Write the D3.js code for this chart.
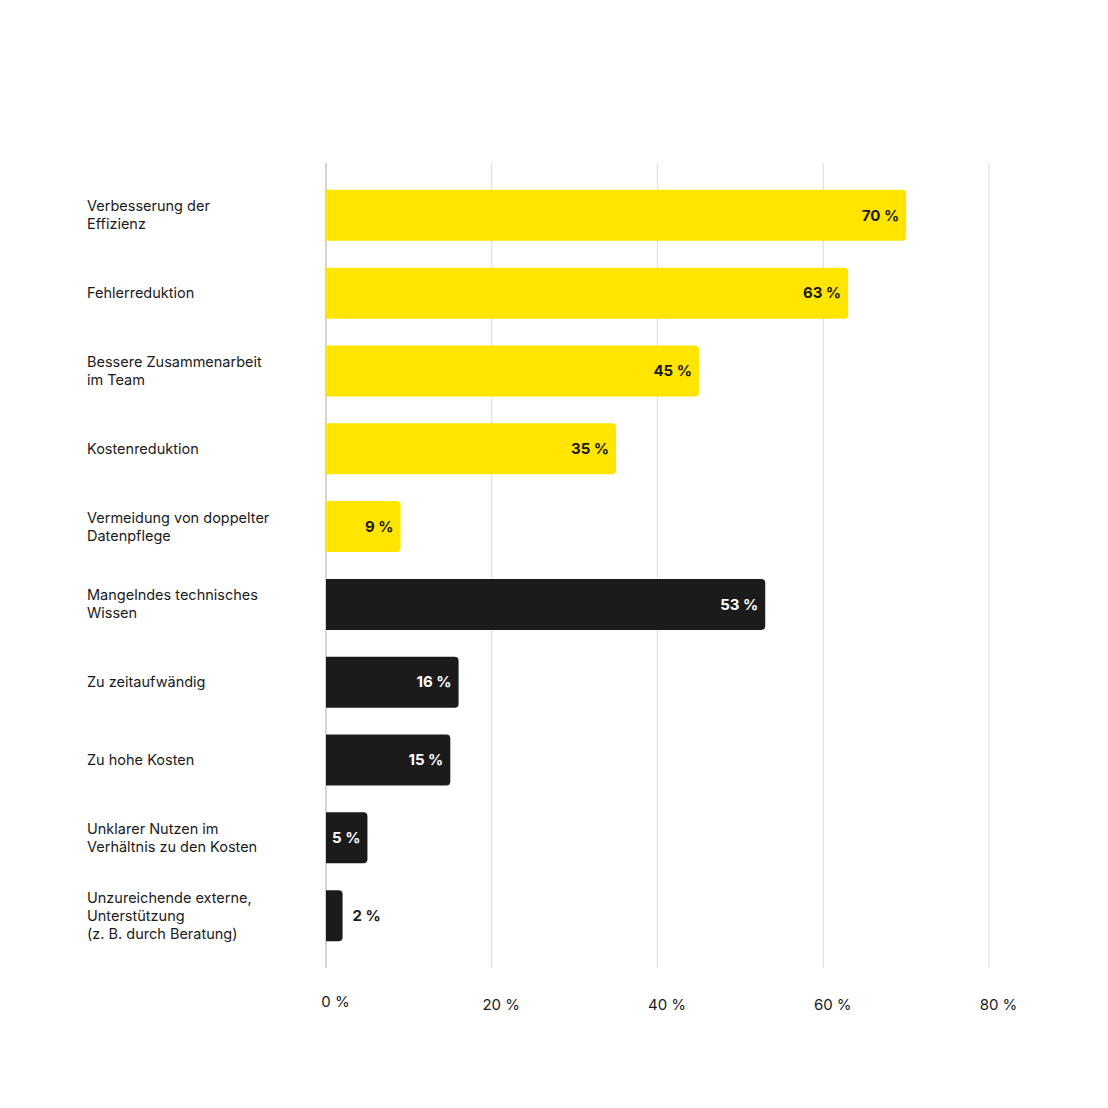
<!DOCTYPE html>
<html>
<head>
<meta charset="utf-8">
<script src="https://cdn.jsdelivr.net/npm/d3@7"></script>
<style>
  body { margin: 0; background: #fff; }
  svg text { font-family: Inter, "Noto Sans", sans-serif; }
</style>
</head>
<body>
<svg width="1108" height="1108"></svg>
<script>
let categories = [
  ["Verbesserung der", "Effizienz"],
  ["Fehlerreduktion"],
  ["Bessere Zusammenarbeit", "im Team"],
  ["Kostenreduktion"],
  ["Vermeidung von doppelter", "Datenpflege"],
  ["Mangelndes technisches", "Wissen"],
  ["Zu zeitaufwändig"],
  ["Zu hohe Kosten"],
  ["Unklarer Nutzen im", "Verhältnis zu den Kosten"],
  ["Unzureichende externe,", "Unterstützung", "(z. B. durch Beratung)"]
];
let values = [70, 63, 45, 35, 9, 53, 16, 15, 5, 2];
let groups = ["nutzen", "nutzen", "nutzen", "nutzen", "nutzen", "hemmnis", "hemmnis", "hemmnis", "hemmnis", "hemmnis"];
let ticks = [0, 20, 40, 60, 80];

let colors = { nutzen: "#ffe500", hemmnis: "#1b1b1b" };
let textColors = { nutzen: "#1b1b1b", hemmnis: "#ffffff" };

let svg = d3.select("svg");
let plotLeft = 326, plotRight = 989, plotTop = 163, plotBottom = 968;

let x = d3.scaleLinear().domain([0, 80]).range([plotLeft, plotRight]);
let y = d3
  .scaleBand()
  .domain(d3.range(values.length))
  .range([plotTop, plotBottom])
  .paddingInner(0.345)
  .paddingOuter(0.345);

// gridlines
svg
  .selectAll("line.grid")
  .data(ticks)
  .enter()
  .append("line")
  .attr("class", "grid")
  .attr("x1", d => x(d))
  .attr("x2", d => x(d))
  .attr("y1", plotTop)
  .attr("y2", plotBottom)
  .attr("stroke", (d, i) => (i === 0 ? "#b8b8b8" : "#e0e0e0"))
  .attr("stroke-width", 1.2);

// tick labels
svg
  .selectAll("text.tick")
  .data(ticks)
  .enter()
  .append("text")
  .attr("class", "tick")
  .attr("x", d => x(d) + 9.5)
  .attr("y", (d, i) => (i === 0 ? 1002 : 1005))
  .attr("dy", "0.35em")
  .attr("text-anchor", "middle")
  .attr("font-size", 15)
  .attr("fill", "#1b1b1b")
  .text(d => d + " %");

// bars: square left edge, rounded right edge
let r = 4;
function barPath(d, i) {
  let x0 = x(0), x1 = x(d), y0 = y(i), h = y.bandwidth();
  let rr = Math.min(r, (x1 - x0) / 2);
  return "M" + x0 + "," + y0 +
    "H" + (x1 - rr) +
    "Q" + x1 + "," + y0 + " " + x1 + "," + (y0 + rr) +
    "V" + (y0 + h - rr) +
    "Q" + x1 + "," + (y0 + h) + " " + (x1 - rr) + "," + (y0 + h) +
    "H" + x0 + "Z";
}

svg
  .selectAll("path.bar")
  .data(values)
  .enter()
  .append("path")
  .attr("class", "bar")
  .attr("d", barPath)
  .attr("fill", (d, i) => colors[groups[i]]);

// value labels
svg
  .selectAll("text.value")
  .data(values)
  .enter()
  .append("text")
  .attr("class", "value")
  .attr("x", d => (d < 4 ? x(d) + 10 : x(d) - 7))
  .attr("y", (d, i) => y(i) + y.bandwidth() / 2)
  .attr("dy", "0.35em")
  .attr("text-anchor", d => (d < 4 ? "start" : "end"))
  .attr("font-size", 15)
  .attr("font-weight", 700)
  .attr("fill", (d, i) => (d < 4 ? "#1b1b1b" : textColors[groups[i]]))
  .text(d => d + " %");

// category labels
let lineH = 18;
let labels = svg
  .selectAll("text.cat")
  .data(categories)
  .enter()
  .append("text")
  .attr("class", "cat")
  .attr("font-size", 14.5)
  .attr("fill", "#1b1b1b");

labels
  .selectAll("tspan")
  .data((d, i) => d.map((t, j) => ({ t: t, j: j, n: d.length, i: i })))
  .enter()
  .append("tspan")
  .attr("x", 87)
  .attr("y", d => y(d.i) + y.bandwidth() / 2 + (d.j - (d.n - 1) / 2) * lineH)
  .attr("dy", "0.35em")
  .text(d => d.t);
</script>
</body>
</html>
